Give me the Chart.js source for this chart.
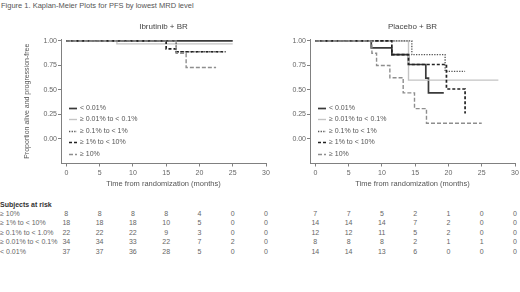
<!DOCTYPE html>
<html>
<head>
<meta charset="utf-8">
<script src="https://cdn.jsdelivr.net/npm/chart.js@4.4.1/dist/chart.umd.min.js"></script>
<style>
  body { margin: 0; background: #fff; font-family: "Liberation Sans", Arial, sans-serif; }
  #wrap { position: relative; width: 520px; height: 292px; overflow: hidden; background: #fff; }
  #figTitle { position: absolute; left: 1px; top: 1px; font-size: 7.5px; color: #555; white-space: nowrap; }
  canvas { position: absolute; top: 16px; }
  #ibrChart { left: 0; }
  #plaChart { left: 268px; }
  .risk { position: absolute; font-size: 7px; line-height: 9px; color: #666; white-space: nowrap; }
  .num { width: 30px; text-align: center; }
  .head { font-weight: bold; color: #333; }
</style>
</head>
<body>
<div id="wrap">
  <div id="figTitle">Figure 1. Kaplan-Meier Plots for PFS by lowest MRD level</div>
  <canvas id="ibrChart" width="274" height="180"></canvas>
  <canvas id="plaChart" width="252" height="180"></canvas>
</div>
<script>
// groups, in legend order
var groups = ['< 0.01%', '≥ 0.01% to < 0.1%', '≥ 0.1% to < 1%', '≥ 1% to < 10%', '≥ 10%'];
var tickMonths = [0, 5, 10, 15, 20, 25, 30];
var tickProps = [0, 0.25, 0.5, 0.75, 1];

// Ibrutinib + BR, [month, proportion] at each step
var ibrLt001 = [[0, 1], [25, 1]];
var ibr001to01 = [[0, 1], [7.6, 0.97], [25, 0.97]];
var ibr01to1 = [[0, 1], [16.5, 0.89], [24, 0.89]];
var ibr1to10 = [[0, 1], [15, 0.92], [16.5, 0.89], [23.5, 0.89]];
var ibrGe10 = [[0, 1], [16.5, 0.875], [18, 0.73], [22.5, 0.73]];

// Placebo + BR
var plaLt001 = [[0, 1], [8.4, 0.93], [11.5, 0.86], [14, 0.76], [16.6, 0.62], [17, 0.47], [19.3, 0.47]];
var pla001to01 = [[0, 1], [14, 0.6], [27.5, 0.6]];
var pla01to1 = [[0, 1], [14.5, 0.86], [19.5, 0.69], [22.5, 0.69]];
var pla1to10 = [[0, 1], [11.5, 0.86], [14, 0.76], [19.7, 0.51], [22.5, 0.26]];
var plaGe10 = [[0, 1], [8.5, 0.875], [9.2, 0.75], [11.2, 0.625], [13.2, 0.47], [14.9, 0.31], [16.7, 0.16], [25, 0.16]];

// subjects at risk table
var riskLabels = ['≥ 10%', '≥ 1% to < 10%', '≥ 0.1% to < 1.0%', '≥ 0.01% to < 0.1%', '< 0.01%'];
var ibrRisk = [
  [8, 8, 8, 8, 4, 0, 0],
  [18, 18, 18, 10, 5, 0, 0],
  [22, 22, 22, 9, 3, 0, 0],
  [34, 34, 33, 22, 7, 2, 0],
  [37, 37, 36, 28, 5, 0, 0]
];
var plaRisk = [
  [7, 7, 5, 2, 1, 0, 0],
  [14, 14, 14, 7, 2, 0, 0],
  [12, 12, 11, 5, 2, 0, 0],
  [8, 8, 8, 2, 1, 1, 0],
  [14, 14, 13, 6, 0, 0, 0]
];

var lineColors = ['#3a3a3a', '#c4c4c4', '#555', '#222', '#8e8e8e'];
var lineWidths = [1.7, 1.4, 1.3, 1.7, 1.4];
var lineDashes = [[], [], [1.3, 1.3], [3, 2], [4, 2]];
var axisColor = '#808080';
var textColor = '#666';
var fontFam = '"Liberation Sans", Arial, sans-serif';

function kmDatasets(curves) {
  return curves.map(function (c, i) {
    return {
      label: groups[i],
      data: c.map(function (p) { return { x: p[0], y: p[1] }; }),
      stepped: 'before',
      borderColor: lineColors[i],
      borderWidth: lineWidths[i],
      borderDash: lineDashes[i],
      pointRadius: 0,
      fill: false,
      order: curves.length - i
    };
  });
}

// legend drawn inside the plot, lower left
var insideLegend = {
  id: 'insideLegend',
  afterDraw: function (chart) {
    var ctx = chart.ctx, a = chart.chartArea;
    ctx.save();
    ctx.font = '7px ' + fontFam;
    ctx.textBaseline = 'middle';
    chart.data.datasets.forEach(function (ds, i) {
      var x = a.left + 8;
      var y = Math.round(a.bottom - 56 + i * 11.6) + 0.5;
      ctx.beginPath();
      ctx.strokeStyle = ds.borderColor;
      ctx.lineWidth = ds.borderWidth;
      ctx.setLineDash(ds.borderDash);
      ctx.moveTo(x, y);
      ctx.lineTo(x + 8, y);
      ctx.stroke();
      ctx.setLineDash([]);
      ctx.fillStyle = '#555';
      ctx.fillText(ds.label, x + 11, y);
    });
    ctx.restore();
  }
};

function makeChart(id, title, curves, yTitle, yWidth, pad) {
  return new Chart(document.getElementById(id), {
    type: 'line',
    data: { datasets: kmDatasets(curves) },
    plugins: [insideLegend],
    options: {
      responsive: false,
      animation: false,
      events: [],
      layout: { padding: pad },
      plugins: {
        legend: { display: false },
        tooltip: { enabled: false },
        title: {
          display: true, text: title, color: '#444', fullSize: false,
          font: { family: fontFam, size: 8, weight: 'normal' },
          padding: { top: 0, bottom: 7.4 }
        }
      },
      scales: {
        x: {
          type: 'linear', min: -0.8, max: 30,
          afterBuildTicks: function (s) { s.ticks = tickMonths.map(function (v) { return { value: v }; }); },
          afterFit: function (s) { s.height = 25; s.paddingLeft = 0; s.paddingRight = 0; },
          grid: { drawOnChartArea: false, tickLength: 3, color: axisColor },
          border: { color: axisColor },
          ticks: { color: textColor, font: { family: fontFam, size: 7 }, padding: 2, maxRotation: 0,
            callback: function (v) { return String(v); } },
          title: { display: true, text: 'Time from randomization (months)', color: '#555',
            font: { family: fontFam, size: 7.5 }, padding: { top: 0, bottom: 0 } }
        },
        y: {
          type: 'linear', min: -0.25, max: 1.02,
          afterBuildTicks: function (s) { s.ticks = tickProps.map(function (v) { return { value: v }; }); },
          afterFit: function (s) { s.width = yWidth; s.paddingTop = 0; s.paddingBottom = 0; },
          grid: { drawOnChartArea: false, tickLength: 3, color: axisColor },
          border: { color: axisColor },
          ticks: { color: textColor, font: { family: fontFam, size: 7 }, padding: 1,
            callback: function (v) { return v.toFixed(2); } },
          title: { display: yTitle, text: 'Proportion alive and progression-free', color: '#555',
            font: { family: fontFam, size: 7 }, padding: { top: 3, bottom: 0 } }
        }
      }
    }
  });
}

var ibrChart = makeChart('ibrChart', 'Ibrutinib + BR',
  [ibrLt001, ibr001to01, ibr01to1, ibr1to10, ibrGe10], true, 41,
  { left: 20, right: 8, top: 6, bottom: 7.5 });
var plaChart = makeChart('plaChart', 'Placebo + BR',
  [plaLt001, pla001to01, pla01to1, pla1to10, plaGe10], false, 40,
  { left: 2, right: 5, top: 6, bottom: 7.5 });

// subjects at risk, columns placed from the x scales
var wrap = document.getElementById('wrap');
function addText(text, x, y, cls) {
  var d = document.createElement('div');
  d.className = 'risk ' + cls;
  d.textContent = text;
  d.style.left = x + 'px';
  d.style.top = y + 'px';
  wrap.appendChild(d);
}
var rowY = [213, 222.5, 232, 241.5, 251];
addText('Subjects at risk', 0, 199.5, 'head');
riskLabels.forEach(function (lab, r) {
  addText(lab, 0, rowY[r] - 4.5, '');
});
[[ibrChart, ibrRisk], [plaChart, plaRisk]].forEach(function (pair) {
  var chart = pair[0], rows = pair[1];
  var off = chart.canvas.offsetLeft;
  rows.forEach(function (vals, r) {
    vals.forEach(function (v, k) {
      var px = off + chart.scales.x.getPixelForValue(tickMonths[k]);
      addText(String(v), px - 15, rowY[r] - 4.5, 'num');
    });
  });
});
</script>
</body>
</html>
